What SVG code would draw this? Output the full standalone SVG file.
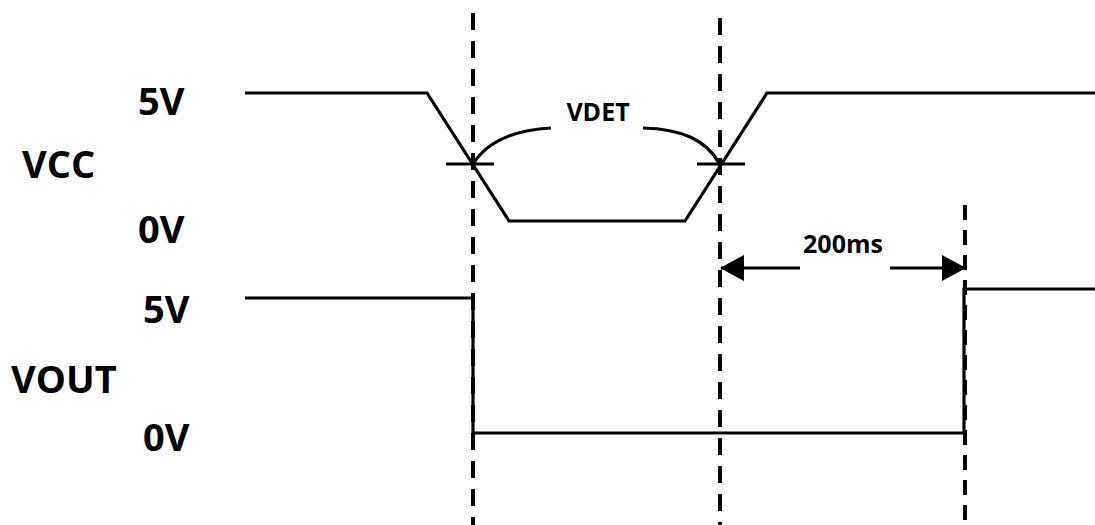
<svg xmlns="http://www.w3.org/2000/svg" width="1095" height="525" viewBox="0 0 1095 525">
<style>
.w{fill:none;stroke:#000;stroke-width:3.2;stroke-linejoin:miter}
.d{fill:none;stroke:#000;stroke-width:4;stroke-dasharray:17 11;stroke-linecap:butt}
.t{font-family:"Open Sans","Noto Sans",sans-serif;font-weight:bold;fill:#000}
.big{font-size:38px}
.sm{font-size:25px}
</style>
<defs>
<marker id="ah" markerWidth="24" markerHeight="26" refX="23" refY="13" orient="auto-start-reverse" markerUnits="userSpaceOnUse">
<path d="M0,0 L24,13 L0,26 Z" fill="#000"/>
</marker>
</defs>
<rect width="1095" height="525" fill="#fff"/>
<g id="labels">
<text class="t big" x="138" y="115">5V</text>
<text class="t big" x="22" y="178">VCC</text>
<text class="t big" x="138" y="243">0V</text>
<text class="t big" x="143" y="323">5V</text>
<text class="t big" x="11" y="393">VOUT</text>
<text class="t big" x="143" y="451">0V</text>
</g>
<g id="vcc">
<polyline class="w" points="245,93 427,93 509,221 685,221 767,93 1095,93"/>
<line class="w" x1="446" y1="164" x2="494" y2="164"/>
<line class="w" x1="697" y1="164" x2="745" y2="164"/>
</g>
<g id="vout">
<polyline class="w" points="245,298 473,298 473,433 964,433 964,289 1095,289"/>
</g>
<g id="connectors">
<line class="d" x1="473" y1="13" x2="473" y2="525"/>
<line class="d" x1="720" y1="18" x2="720" y2="525"/>
<line class="d" x1="965" y1="205" x2="965" y2="525" style="stroke-dasharray:15 10"/>
<path class="w" d="M473,164 C488,140 515,130 551,128"/>
<path class="w" d="M643,128 C682,129 706,140 719,163"/>
<line class="w" x1="800" y1="268" x2="721" y2="268" marker-end="url(#ah)"/>
<line class="w" x1="890" y1="268" x2="965" y2="268" marker-end="url(#ah)"/>
</g>
<g id="annotations">
<text class="t sm" x="598" y="121" text-anchor="middle">VDET</text>
<text class="t sm" x="843" y="253" text-anchor="middle">200ms</text>
</g>
</svg>
